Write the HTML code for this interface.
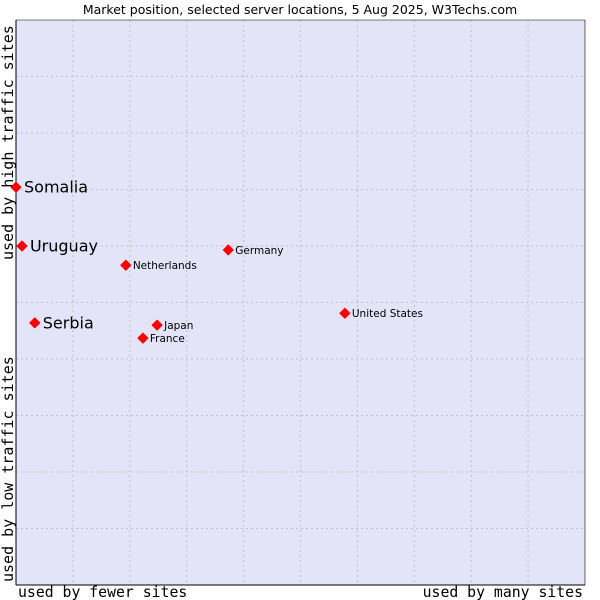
<!DOCTYPE html>
<html><head><meta charset="utf-8"><style>
body{margin:0;background:#fff}
svg{display:block}
</style></head><body>
<svg id="c" width="600" height="600" xmlns="http://www.w3.org/2000/svg">
<text x="300" y="14" text-anchor="middle" font-family="DejaVu Sans, sans-serif" font-size="12.5" fill="#000">Market position, selected server locations, 5 Aug 2025, W3Techs.com</text>
<rect x="16" y="20" width="569" height="565" fill="#e3e4f8"/>
<g id="grid"></g>
<line x1="16" y1="20" x2="16" y2="585" stroke="#000"/>
<line x1="16" y1="585" x2="585" y2="585" stroke="#000"/>
<line x1="585" y1="20" x2="585" y2="585" stroke="#000" stroke-width="0.6"/>
<line x1="16" y1="20" x2="585" y2="20" stroke="#000" stroke-width="0.6"/>
<text x="18" y="597" font-family="DejaVu Sans Mono, monospace" font-size="14.8">used by fewer sites</text>
<text x="583" y="597" text-anchor="end" font-family="DejaVu Sans Mono, monospace" font-size="14.8">used by many sites</text>
<text transform="translate(13,260) rotate(-90)" font-family="DejaVu Sans Mono, monospace" font-size="15">used by high traffic sites</text>
<text transform="translate(13,582) rotate(-90)" font-family="DejaVu Sans Mono, monospace" font-size="15">used by low traffic sites</text>
<g id="pts"></g>
</svg>
<script>
const countries=["Somalia","Uruguay","Netherlands","Germany","United States","Serbia","Japan","France"];
const xValues=[0,1.05,19.3,37.3,57.8,3.3,24.8,22.3];
const yValues=[70.4,60,56.6,59.3,48.1,46.4,46.0,43.7];
const bigLabel=[true,true,false,false,false,true,false,false];
const NS="http://www.w3.org/2000/svg";
const L=16,R=585,T=20,B=585;
function sx(v){return L+v/100*(R-L);}
function sy(v){return B-v/100*(B-T);}
const grid=document.getElementById('grid');
for(let i=1;i<10;i++){
  const v=document.createElementNS(NS,'line');
  v.setAttribute('x1',sx(i*10));v.setAttribute('x2',sx(i*10));v.setAttribute('y1',T);v.setAttribute('y2',B);
  v.setAttribute('stroke','#c0c0c0');v.setAttribute('stroke-dasharray','2,3');
  
  
  grid.appendChild(v);
  const h=document.createElementNS(NS,'line');
  h.setAttribute('y1',sy(i*10));h.setAttribute('y2',sy(i*10));h.setAttribute('x1',L);h.setAttribute('x2',R);
  h.setAttribute('stroke','#c0c0c0');h.setAttribute('stroke-dasharray','2,3');
  
  
  grid.appendChild(h);
}
const pts=document.getElementById('pts');
countries.forEach((c,i)=>{
  const x=sx(xValues[i]),y=sy(yValues[i]);
  const d=document.createElementNS(NS,'path');
  d.setAttribute('d',`M${x-5},${y} L${x},${y-5} L${x+5},${y} L${x},${y+5} Z`);
  d.setAttribute('fill','#ff0000');
  d.setAttribute('stroke','#ff0000');
  d.setAttribute('stroke-width','1');
  d.setAttribute('stroke-linejoin','round');
  
  
  pts.appendChild(d);
  const t=document.createElementNS(NS,'text');
  const big=bigLabel[i];
  t.setAttribute('x',x+(big?8:7));
  t.setAttribute('y',y+(big?5.5:4));
  t.setAttribute('font-family','DejaVu Sans, sans-serif');
  t.setAttribute('font-size',big?'16':'10.5');
  t.textContent=c;
  
  
  pts.appendChild(t);
});
</script>
</body></html>
